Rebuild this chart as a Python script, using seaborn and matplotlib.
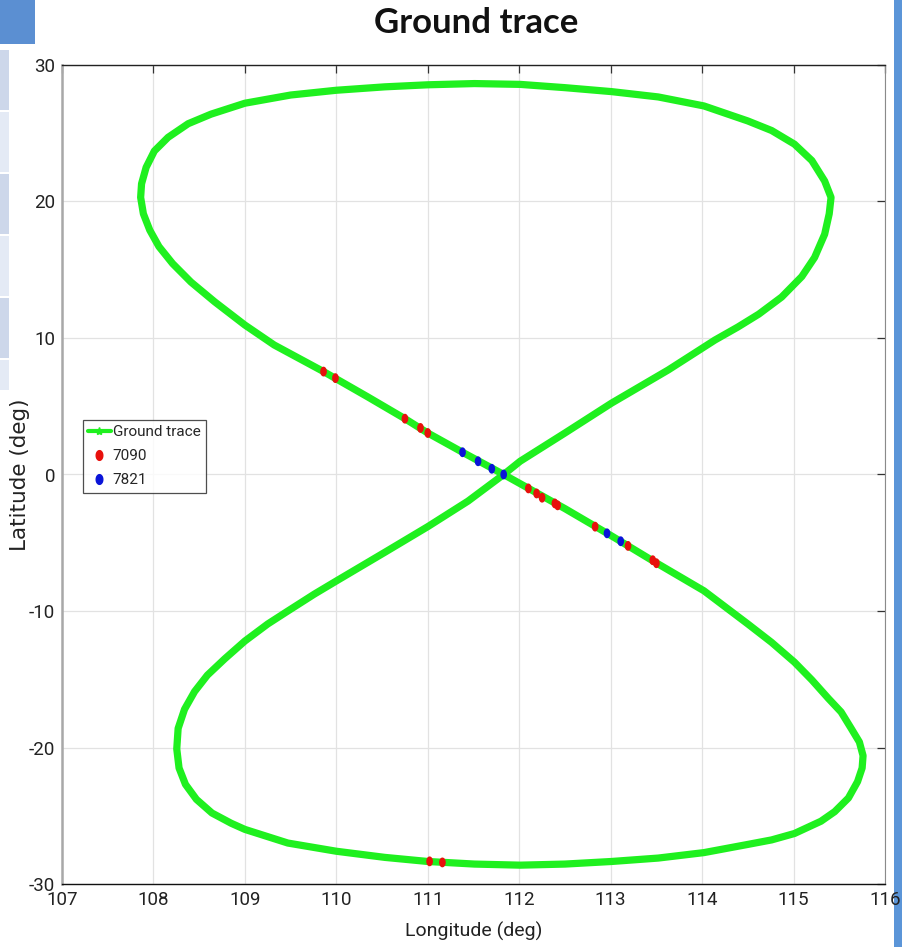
import numpy as np
import pandas as pd
import matplotlib
matplotlib.use("Agg")
import matplotlib.pyplot as plt
from matplotlib import font_manager as fm
from matplotlib.path import Path
from matplotlib.lines import Line2D
from matplotlib.patches import Rectangle
import seaborn as sns

# ---- ground trace (closed figure-eight), degrees ----
trace_lon = [111.83, 111.38, 111.00, 110.75, 110.34, 109.86, 109.32, 109.00, 108.67,
             108.41, 108.21, 108.06, 107.96, 107.89, 107.86, 107.87, 107.92, 108.01,
             108.16, 108.38, 108.63, 109.00, 109.50, 110.00, 110.53, 111.00, 111.51,
             112.01, 112.50, 113.01, 113.52, 114.02, 114.50, 114.76, 115.01, 115.20,
             115.34, 115.41, 115.39, 115.34, 115.23, 115.09, 114.87, 114.62, 114.39,
             114.14, 113.63, 113.01, 112.50, 112.01, 111.83,
             111.44, 111.00, 110.53, 110.00, 109.76, 109.47, 109.25, 109.00, 108.78,
             108.59, 108.45, 108.34, 108.27, 108.255, 108.28, 108.35, 108.47, 108.64,
             108.85, 109.00, 109.47, 110.00, 110.53, 111.00, 111.51, 112.01, 112.50,
             113.01, 113.52, 114.02, 114.50, 114.76, 115.01, 115.30, 115.45, 115.60,
             115.70, 115.75, 115.76, 115.72, 115.63, 115.52, 115.38, 115.20, 115.01,
             114.76, 114.50, 114.02, 113.48, 113.01, 112.50, 111.83]
trace_lat = [0.00, 1.63, 3.04, 4.09, 5.70, 7.54, 9.49, 10.95, 12.65,
             14.10, 15.45, 16.70, 17.90, 19.10, 20.30, 21.30, 22.50, 23.70,
             24.70, 25.70, 26.40, 27.20, 27.80, 28.15, 28.40, 28.55, 28.64,
             28.58, 28.34, 28.05, 27.66, 27.00, 25.90, 25.20, 24.20, 23.00,
             21.50, 20.30, 19.10, 17.60, 15.90, 14.50, 13.00, 11.75, 10.80,
             9.85, 7.66, 5.23, 3.04, 0.97, 0.00,
             -1.95, -3.82, -5.70, -7.80, -8.76, -10.00, -10.95, -12.20, -13.50,
             -14.70, -15.90, -17.20, -18.60, -20.10, -21.50, -22.70, -23.80, -24.80,
             -25.55, -26.00, -27.00, -27.60, -28.05, -28.35, -28.54, -28.62, -28.54,
             -28.35, -28.10, -27.70, -27.10, -26.77, -26.30, -25.40, -24.70, -23.70,
             -22.50, -21.50, -20.60, -19.60, -18.60, -17.40, -16.40, -15.05, -13.75,
             -12.30, -10.95, -8.52, -6.40, -4.50, -2.50, 0.00]

# ---- station 7090 sub-points ----
s7090_lon = [109.86, 109.99, 110.75, 110.92, 111.00,
             112.10, 112.19, 112.25, 112.39, 112.42, 112.83, 113.19, 113.46, 113.50,
             111.02, 111.16]
s7090_lat = [7.54, 7.06, 4.09, 3.41, 3.04,
             -1.02, -1.39, -1.70, -2.12, -2.26, -3.82, -5.23, -6.28, -6.50,
             -28.34, -28.42]

# ---- station 7821 sub-points ----
s7821_lon = [111.38, 111.55, 111.70, 111.83, 112.96, 113.11]
s7821_lat = [1.63, 0.97, 0.42, 0.00, -4.31, -4.89]

x_ticks = [107, 108, 109, 110, 111, 112, 113, 114, 115, 116]
y_ticks = [-30, -20, -10, 0, 10, 20, 30]

GREEN = "#1ff01f"
RED = "#e8100c"
BLUE = "#0a14d8"

sns.set_theme(style="white")
plt.rcParams["font.family"] = ["Roboto", "DejaVu Sans"]
TICK_FONT = fm.FontProperties(family=["Roboto", "DejaVu Sans"], size=13.5)

W, H = 909, 947
fig = plt.figure(figsize=(W / 100, H / 100), dpi=100)
fig.patch.set_facecolor("white")
ax = fig.add_axes([62 / W, 1 - 884 / H, (885 - 62) / W, (884 - 65) / H])
ax.set_facecolor("white")

trace = pd.DataFrame({"lon": trace_lon, "lat": trace_lat})
sns.lineplot(data=trace, x="lon", y="lat", sort=False, estimator=None, ax=ax,
             color=GREEN, linewidth=5.2, solid_joinstyle="round",
             solid_capstyle="round", legend=False, zorder=3)

# slightly upright ellipse marker
t = np.linspace(0, 2 * np.pi, 40)
ell = Path(np.column_stack([0.68 * np.cos(t), np.sin(t)]), closed=True)

pts = pd.concat([
    pd.DataFrame({"lon": s7090_lon, "lat": s7090_lat, "site": "7090"}),
    pd.DataFrame({"lon": s7821_lon, "lat": s7821_lat, "site": "7821"}),
])
sns.scatterplot(data=pts, x="lon", y="lat", hue="site",
                palette={"7090": RED, "7821": BLUE}, marker=ell, s=50,
                linewidth=0, ax=ax, legend=False, zorder=4)

ax.set_xlim(107, 116)
ax.set_ylim(-30, 30)
ax.set_xticks(x_ticks)
ax.set_yticks(y_ticks)
ax.set_xticklabels([str(v) for v in x_ticks])
ax.set_yticklabels([str(v) for v in y_ticks])
ax.grid(True, color="#e2e2e2", linewidth=0.9, zorder=0)
ax.set_axisbelow(True)
ax.tick_params(axis="both", direction="in", length=6, width=0.9, color="#333333",
               top=True, right=True, pad=5, labelcolor="#222222")
for lab in ax.get_xticklabels() + ax.get_yticklabels():
    lab.set_fontproperties(TICK_FONT)

ax.spines["left"].set_color("#a8a8a8")
ax.spines["left"].set_linewidth(1.8)
ax.spines["bottom"].set_color("#111111")
ax.spines["bottom"].set_linewidth(1.0)
ax.spines["top"].set_color("#222222")
ax.spines["top"].set_linewidth(1.0)
ax.spines["right"].set_color("#8a8a8a")
ax.spines["right"].set_linewidth(0.8)

ax.set_xlabel("Longitude (deg)", fontsize=14, color="#222222", labelpad=9)
ax.set_ylabel("")
fig.text(20 / W, 1 - 475 / H, "Latitude (deg)", rotation=90, ha="center",
         va="center", fontsize=15.5, color="#222222", family="DejaVu Sans")
fig.text(476 / W, 1 - 23 / H, "Ground trace", ha="center", va="center",
         fontsize=25, fontweight="bold", family="Lato", color="#111111")

handles = [
    Line2D([], [], color=GREEN, linewidth=3, marker="*", markersize=6),
    Line2D([], [], linestyle="none", color=RED, marker=ell, markersize=7),
    Line2D([], [], linestyle="none", color=BLUE, marker=ell, markersize=7),
]
leg = ax.legend(handles, ["Ground trace", "7090", "7821"], loc="upper left",
                bbox_to_anchor=((83 - 62) / 823, (884 - 420) / 819),
                borderaxespad=0, frameon=True, fancybox=False,
                prop=fm.FontProperties(family=["Roboto", "DejaVu Sans"], size=11),
                handlelength=1.45, handletextpad=0.15, borderpad=0.35,
                labelspacing=0.65)
leg.get_frame().set_edgecolor("#222222")
leg.get_frame().set_linewidth(0.9)
leg.set_zorder(5)

# slide decorations around the figure
fig.patches.append(Rectangle((0, 1 - 44 / H), 35 / W, 44 / H, transform=fig.transFigure,
                             facecolor="#5b8fd2", edgecolor="none", zorder=-1))
bands = [(50, 110, "#cdd7ea"), (112, 172, "#e4eaf5"), (174, 234, "#cdd7ea"),
         (236, 296, "#e4eaf5"), (298, 358, "#cdd7ea"), (360, 390, "#e4eaf5")]
for y0, y1, c in bands:
    fig.patches.append(Rectangle((0, 1 - y1 / H), 9 / W, (y1 - y0) / H,
                                 transform=fig.transFigure, facecolor=c,
                                 edgecolor="none", zorder=-1))
fig.patches.append(Rectangle((894 / W, 0), 8 / W, 1, transform=fig.transFigure,
                             facecolor="#5b95d8", edgecolor="none", zorder=-1))

fig.savefig("out.png", dpi=100, facecolor="white")
